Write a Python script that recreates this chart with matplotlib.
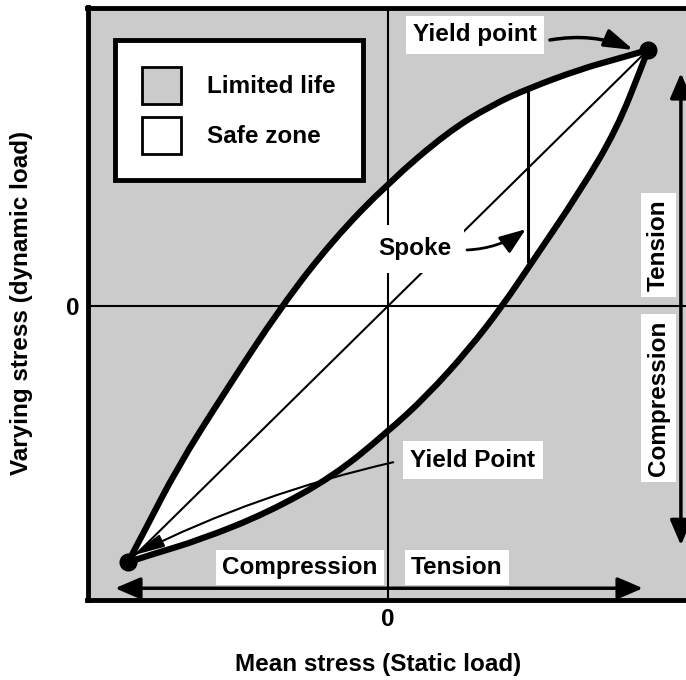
"""Safe zone diagram: mean stress vs varying stress for a spoke."""

import matplotlib
import matplotlib.pyplot as plt
from matplotlib.patches import Patch, PathPatch
from matplotlib.path import Path

matplotlib.use("Agg")

plt.rcParams["font.family"] = ["Liberation Sans", "DejaVu Sans"]
plt.rcParams["font.weight"] = "bold"
plt.rcParams["axes.labelweight"] = "bold"

# upper boundary of the safe zone (mean stress, varying stress)
upper_x = [-1.0, -0.94, -0.81, -0.64, -0.41, -0.21, 0.0, 0.23, 0.40, 0.54, 0.74, 0.88, 1.0]
upper_y = [-1.0, -0.885, -0.63, -0.355, 0.0, 0.26, 0.48, 0.68, 0.785, 0.85, 0.925, 0.965, 1.0]

# lower boundary of the safe zone
lower_x = [-1.0, -0.915, -0.72, -0.465, -0.21, 0.0, 0.15, 0.31, 0.44, 0.55, 0.74, 0.88, 0.98, 1.0]
lower_y = [-1.0, -0.972, -0.912, -0.808, -0.665, -0.49, -0.35, -0.17, 0.0, 0.165, 0.45, 0.69, 0.945, 1.0]

# yield points (compression and tension ends)
yield_x = [-1.0, 1.0]
yield_y = [-1.0, 1.0]

# spoke: vertical segment between the two boundaries
spoke_x = [0.538, 0.538]
spoke_y = [0.175, 0.845]

legend_labels = ["Limited life", "Safe zone"]
limited_color = "#cbcbcb"
safe_color = "white"

FONT = 17.5


def smooth_vertices(xs, ys):
    """Quadratic-spline path through the read points (corners rounded off)."""
    verts = [(xs[0], ys[0])]
    codes = [Path.MOVETO]
    for i in range(1, len(xs) - 1):
        verts += [(xs[i], ys[i]), ((xs[i] + xs[i + 1]) / 2, (ys[i] + ys[i + 1]) / 2)]
        codes += [Path.CURVE3, Path.CURVE3]
    verts.append((xs[-1], ys[-1]))
    codes.append(Path.LINETO)
    return verts, codes


fig = plt.figure(figsize=(6.86, 6.80), dpi=100)
ax = fig.add_axes([87.5 / 686, 80.5 / 680, 602.5 / 686, 592 / 680])
ax.set_facecolor(limited_color)
ax.set_xlim(-1.156, 1.162)
ax.set_ylim(-1.146, 1.166)

upper_verts, upper_codes = smooth_vertices(upper_x, upper_y)
lower_verts, lower_codes = smooth_vertices(lower_x, lower_y)
back_verts, back_codes = smooth_vertices(lower_x[::-1], lower_y[::-1])

# safe zone lens
lens = Path(upper_verts + back_verts + [upper_verts[0]],
            upper_codes + [Path.LINETO] + back_codes[1:] + [Path.CLOSEPOLY])
ax.add_patch(PathPatch(lens, facecolor=safe_color, edgecolor="none", zorder=1))

ax.axhline(0, color="black", lw=1.5, zorder=2)
ax.axvline(0, color="black", lw=1.5, zorder=2)
ax.plot(yield_x, yield_y, color="black", lw=1.5, zorder=2)
ax.plot(spoke_x, spoke_y, color="black", lw=2.2, zorder=3)

for verts, codes in [(upper_verts, upper_codes), (lower_verts, lower_codes)]:
    ax.add_patch(PathPatch(Path(verts, codes), fill=False, edgecolor="black", lw=4.5,
                           capstyle="round", joinstyle="round", zorder=4))
ax.plot(yield_x, yield_y, "o", color="black", ms=12, zorder=5)

ax.text(0.335, 1.059, "Yield point", fontsize=FONT, ha="center", va="center",
        bbox=dict(facecolor="white", edgecolor="none", boxstyle="square,pad=0.3"), zorder=6)
ax.annotate("", xy=(0.945, 1.0), xytext=(0.623, 1.039),
            arrowprops=dict(arrowstyle="-|>,head_length=0.8,head_width=0.25", lw=2.5,
                            color="black", connectionstyle="arc3,rad=-0.15",
                            mutation_scale=22, shrinkA=0, shrinkB=0), zorder=6)

ax.text(0.104, 0.223, "Spoke", fontsize=FONT, ha="center", va="center",
        bbox=dict(facecolor="white", edgecolor="none", boxstyle="square,pad=0.5"), zorder=6)
ax.annotate("", xy=(0.53, 0.30), xytext=(0.304, 0.219),
            arrowprops=dict(arrowstyle="-|>,head_length=0.8,head_width=0.3", lw=2,
                            color="black", connectionstyle="arc3,rad=0.15",
                            mutation_scale=20, shrinkA=0, shrinkB=0), zorder=6)

ax.text(0.327, -0.602, "Yield Point", fontsize=FONT, ha="center", va="center",
        bbox=dict(facecolor="white", edgecolor="none", boxstyle="square,pad=0.3"), zorder=6)
ax.annotate("", xy=(-0.985, -0.975), xytext=(0.02, -0.61),
            arrowprops=dict(arrowstyle="-|>,head_length=1.0,head_width=0.2", lw=1.5,
                            color="black", connectionstyle="arc3,rad=0.06",
                            mutation_scale=20, shrinkA=0, shrinkB=0), zorder=6)

# mean stress direction arrow
ax.annotate("", xy=(0.981, -1.102), xytext=(-1.05, -1.102),
            arrowprops=dict(arrowstyle="<|-|>,head_length=0.7,head_width=0.3", lw=2.5,
                            color="black", mutation_scale=22, shrinkA=0, shrinkB=0), zorder=3)
ax.text(-0.338, -1.02, "Compression", fontsize=FONT, ha="center", va="center",
        bbox=dict(facecolor="white", edgecolor="none", boxstyle="square,pad=0.25"), zorder=6)
ax.text(0.265, -1.02, "Tension", fontsize=FONT, ha="center", va="center",
        bbox=dict(facecolor="white", edgecolor="none", boxstyle="square,pad=0.25"), zorder=6)

# varying stress direction arrow
ax.annotate("", xy=(1.127, 0.91), xytext=(1.127, -0.934),
            arrowprops=dict(arrowstyle="<|-|>,head_length=0.7,head_width=0.3", lw=2.5,
                            color="black", mutation_scale=22, shrinkA=0, shrinkB=0), zorder=3)
ax.text(1.04, 0.238, "Tension", fontsize=FONT, ha="center", va="center", rotation=90,
        bbox=dict(facecolor="white", edgecolor="none", boxstyle="square,pad=0.25"), zorder=6)
ax.text(1.04, -0.359, "Compression", fontsize=FONT, ha="center", va="center", rotation=90,
        bbox=dict(facecolor="white", edgecolor="none", boxstyle="square,pad=0.25"), zorder=6)

handles = [Patch(facecolor=limited_color, edgecolor="black", lw=2),
           Patch(facecolor=safe_color, edgecolor="black", lw=2)]
legend = ax.legend(handles, legend_labels, loc="upper left",
                   bbox_to_anchor=(0.0456, 0.945), borderaxespad=0,
                   fontsize=FONT, frameon=True, fancybox=False, framealpha=1,
                   handlelength=1.6, handleheight=1.95, handletextpad=1.1,
                   labelspacing=0.55, borderpad=1.1)
legend.get_frame().set_edgecolor("black")
legend.get_frame().set_linewidth(3.5)
legend.set_zorder(7)

ax.set_xticks([0])
ax.set_xticklabels(["0"])
ax.set_yticks([0])
ax.set_yticklabels(["0"])
ax.tick_params(length=0, labelsize=FONT, pad=6)

ax.set_xlabel("Mean stress (Static load)", fontsize=FONT, fontweight="bold")
ax.set_ylabel("Varying stress (dynamic load)", fontsize=FONT, fontweight="bold")
ax.xaxis.set_label_coords(0.482, -0.09)
ax.yaxis.set_label_coords(-0.09, 0.501)

for side in ["left", "top", "bottom"]:
    ax.spines[side].set_linewidth(3.5)
ax.spines["right"].set_visible(False)

fig.savefig("out.png", dpi=100)
